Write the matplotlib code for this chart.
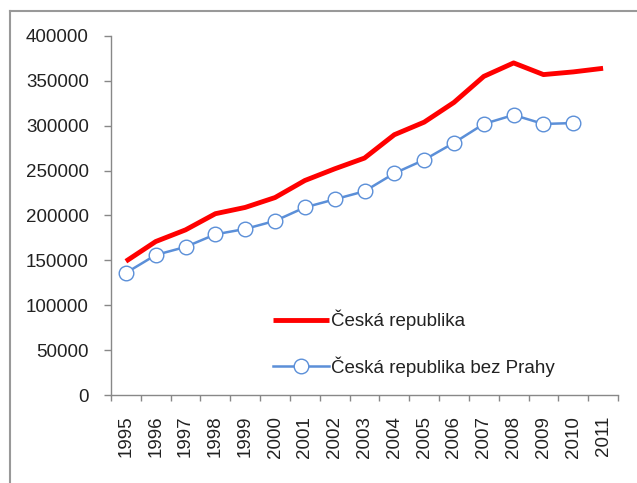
import matplotlib
matplotlib.use("Agg")
import matplotlib.pyplot as plt
from matplotlib.lines import Line2D
import numpy as np

years = [str(y) for y in range(1995, 2012)]
cr = [149000, 171000, 184000, 202000, 209000, 220000, 239000, 252000, 264000,
      290000, 304000, 326000, 355000, 370000, 357000, 360000, 364000]
cr_bez_prahy = [136000, 156000, 165000, 179000, 185000, 194000, 209000, 218000, 227000,
                247000, 262000, 281000, 302000, 312000, 302000, 303000]
yticks = [0, 50000, 100000, 150000, 200000, 250000, 300000, 350000, 400000]

plt.rcParams['font.family'] = ['Liberation Sans', 'DejaVu Sans']

fig = plt.figure(figsize=(6.37, 4.83), dpi=100)
ax = fig.add_axes([111/637, 88/483, (618-111)/637, (395-36)/483])

x = np.arange(len(years))
ax.plot(x, cr, color='#FF0000', lw=3.5, solid_capstyle='butt', label='Česká republika', zorder=3)
ax.plot(x[:len(cr_bez_prahy)], cr_bez_prahy, color='#5B8FD8', lw=1.8, marker='o',
        markersize=10.5, markerfacecolor='white', markeredgecolor='#5B8FD8',
        markeredgewidth=1.0, label='Česká republika bez Prahy', zorder=2)

ax.set_xlim(-0.5, len(years) - 0.5)
ax.set_ylim(0, 400000)
ax.set_yticks(yticks)
ax.set_yticklabels([str(v) for v in yticks])
ax.set_xticks(x)
ax.set_xticklabels(years, rotation=90)
ax.set_xticks(np.arange(-0.5, len(years), 1.0), minor=True)

gray = '#888888'
for s in ['top', 'right']:
    ax.spines[s].set_visible(False)
for s in ['left', 'bottom']:
    ax.spines[s].set_color(gray)
    ax.spines[s].set_linewidth(1.0)

fs = 13.5
ax.tick_params(axis='y', direction='out', length=5, width=1, color=gray, pad=11,
               labelsize=fs, labelcolor='#222222')
ax.tick_params(axis='x', which='major', length=0, pad=15, labelsize=fs, labelcolor='#222222')
ax.tick_params(axis='x', which='minor', direction='out', length=4, width=1, color=gray)

leg = ax.legend(loc='upper left', bbox_to_anchor=((273-111)/507, (395-310)/359),
                frameon=False, fontsize=fs, handlelength=3.0, handletextpad=0.1,
                labelspacing=1.37, borderpad=0, borderaxespad=0)
for t in leg.get_texts():
    t.set_color('#222222')

# outer chart border (left and top visible)
fig.add_artist(Line2D([10/637, 10/637], [0, 1 - 11/483], transform=fig.transFigure,
                      color='#999999', lw=1.5))
fig.add_artist(Line2D([10/637, 1], [1 - 11/483, 1 - 11/483], transform=fig.transFigure,
                      color='#999999', lw=1.5))

fig.savefig('out.png', dpi=100)
